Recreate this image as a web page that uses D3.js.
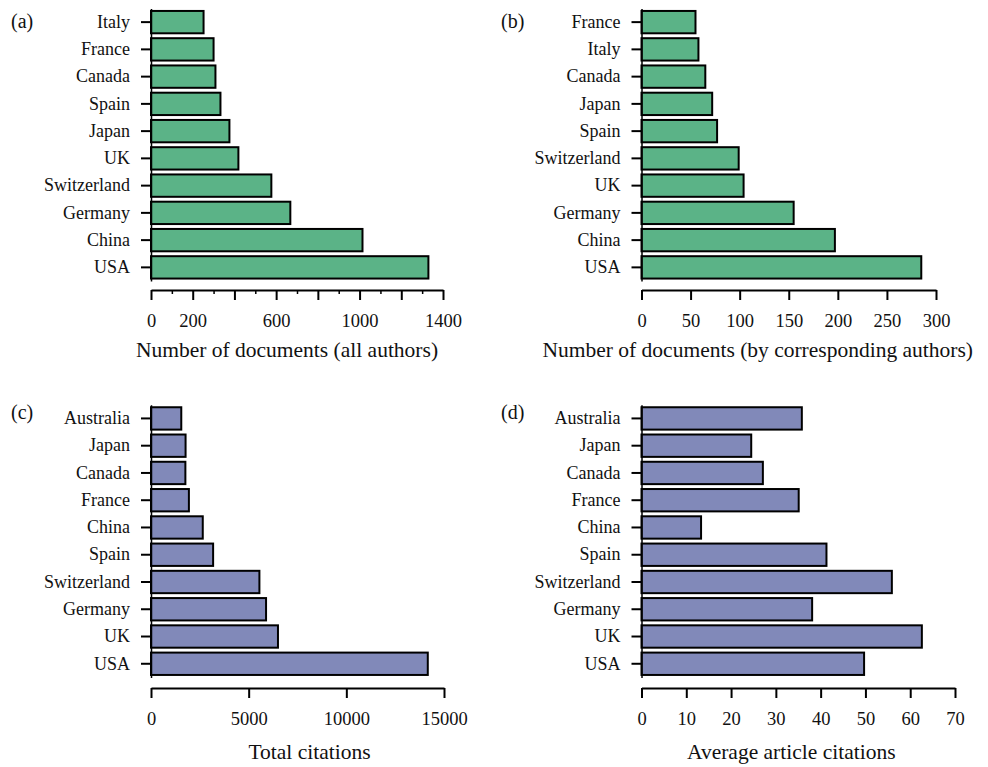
<!DOCTYPE html>
<html>
<head>
<meta charset="utf-8">
<script src="https://cdn.jsdelivr.net/npm/d3@7"></script>
<style>
  body { margin: 0; background: #fff; }
  svg text { font-family: "Liberation Serif", "Times New Roman", Tinos, "DejaVu Serif", serif !important; fill: #111; }
</style>
</head>
<body>
<div id="chart"></div>
<script>
// panel (a): documents, all authors
const countriesA = ["Italy", "France", "Canada", "Spain", "Japan", "UK", "Switzerland", "Germany", "China", "USA"];
const valuesA = [252, 300, 309, 333, 376, 419, 577, 668, 1014, 1330];
const ticksA = [0, 200, 400, 600, 800, 1000, 1200, 1400];
const labelsA = [0, 200, 600, 1000, 1400];

// panel (b): documents, corresponding authors
const countriesB = ["France", "Italy", "Canada", "Japan", "Spain", "Switzerland", "UK", "Germany", "China", "USA"];
const valuesB = [55, 58, 65, 72, 77, 99, 104, 155, 197, 285];
const ticksB = [0, 50, 100, 150, 200, 250, 300];

// panel (c): total citations
const countriesC = ["Australia", "Japan", "Canada", "France", "China", "Spain", "Switzerland", "Germany", "UK", "USA"];
const valuesC = [1550, 1770, 1760, 1940, 2650, 3180, 5550, 5890, 6500, 14170];
const ticksC = [0, 5000, 10000, 15000];

// panel (d): average article citations
const countriesD = ["Australia", "Japan", "Canada", "France", "China", "Spain", "Switzerland", "Germany", "UK", "USA"];
const valuesD = [35.8, 24.5, 27.1, 35.1, 13.3, 41.3, 55.9, 38.1, 62.6, 49.7];
const ticksD = [0, 10, 20, 30, 40, 50, 60, 70];

const green = "#5bb387", purple = "#8189b9";

const svg = d3.select("#chart")
  .append("svg")
    .attr("width", 988)
    .attr("height", 767);

function panel(opts) {
  const g = svg.append("g");

  const x = d3.scaleLinear()
    .domain([0, opts.max])
    .range([opts.x0, opts.x1]);

  const y = d3.scaleBand()
    .domain(opts.cats)
    .range([opts.y0, opts.y1])
    .paddingInner(0.18)
    .paddingOuter(0.09);

  // bars
  g.append("g")
    .selectAll("rect")
    .data(opts.vals)
    .join("rect")
      .attr("x", x(0))
      .attr("y", (d, i) => y(opts.cats[i]))
      .attr("width", d => x(d) - x(0))
      .attr("height", y.bandwidth())
      .attr("fill", opts.color)
      .attr("stroke", "#000")
      .attr("stroke-width", 2);

  // y axis
  const ya = g.append("g")
    .attr("transform", `translate(${opts.x0},0)`)
    .call(d3.axisLeft(y).tickSize(10).tickSizeOuter(0).tickPadding(11));
  ya.select(".domain").attr("stroke-width", 1.5);
  ya.selectAll(".tick line").attr("stroke-width", 2);
  ya.selectAll("text").style("font-size", "18px");

  // minor ticks
  if (opts.minor) {
    g.append("g")
      .attr("transform", `translate(0,${opts.axisY})`)
      .call(d3.axisBottom(x).tickValues(opts.minor).tickSize(4).tickFormat(""))
      .call(s => s.select(".domain").remove())
      .selectAll(".tick line").attr("stroke-width", 1.5);
  }

  // x axis
  const xa = g.append("g")
    .attr("transform", `translate(0,${opts.axisY})`)
    .call(d3.axisBottom(x)
      .tickValues(opts.ticks)
      .tickSize(10)
      .tickSizeOuter(0)
      .tickPadding(14)
      .tickFormat(d => (opts.labels && opts.labels.indexOf(d) < 0) ? "" : d));
  xa.select(".domain").attr("stroke-width", 2);
  xa.selectAll(".tick line").attr("stroke-width", 2);
  xa.selectAll("text").style("font-size", "18.5px");

  // axis title
  g.append("text")
    .attr("x", (opts.x0 + opts.x1) / 2 + (opts.titleShift || 0))
    .attr("y", opts.titleY)
    .attr("text-anchor", "middle")
    .style("font-size", "21.5px")
    .text(opts.title);

  // panel letter
  g.append("text")
    .attr("x", opts.letterX)
    .attr("y", opts.letterY)
    .style("font-size", "20px")
    .text(opts.letter);
}

panel({
  cats: countriesA, vals: valuesA, max: 1400, ticks: ticksA, labels: labelsA,
  minor: [100, 300, 500, 700, 900, 1100, 1300],
  x0: 151, x1: 443, y0: 8.5, y1: 281, axisY: 290,
  color: green, title: "Number of documents (all authors)", titleY: 357, titleShift: -10,
  letter: "(a)", letterX: 11, letterY: 28
});

panel({
  cats: countriesB, vals: valuesB, max: 300, ticks: ticksB,
  x0: 641.5, x1: 936, y0: 8.5, y1: 281, axisY: 290,
  color: green, title: "Number of documents (by corresponding authors)", titleY: 357, titleShift: -31,
  letter: "(b)", letterX: 501, letterY: 28
});

panel({
  cats: countriesC, vals: valuesC, max: 15000, ticks: ticksC,
  x0: 151, x1: 444, y0: 404.8, y1: 677.4, axisY: 688,
  color: purple, title: "Total citations", titleY: 759, titleShift: 12,
  letter: "(c)", letterX: 11, letterY: 419
});

panel({
  cats: countriesD, vals: valuesD, max: 70, ticks: ticksD,
  x0: 641.5, x1: 955, y0: 404.8, y1: 677.4, axisY: 688,
  color: purple, title: "Average article citations", titleY: 759, titleShift: -7,
  letter: "(d)", letterX: 501, letterY: 419
});
</script>
</body>
</html>
